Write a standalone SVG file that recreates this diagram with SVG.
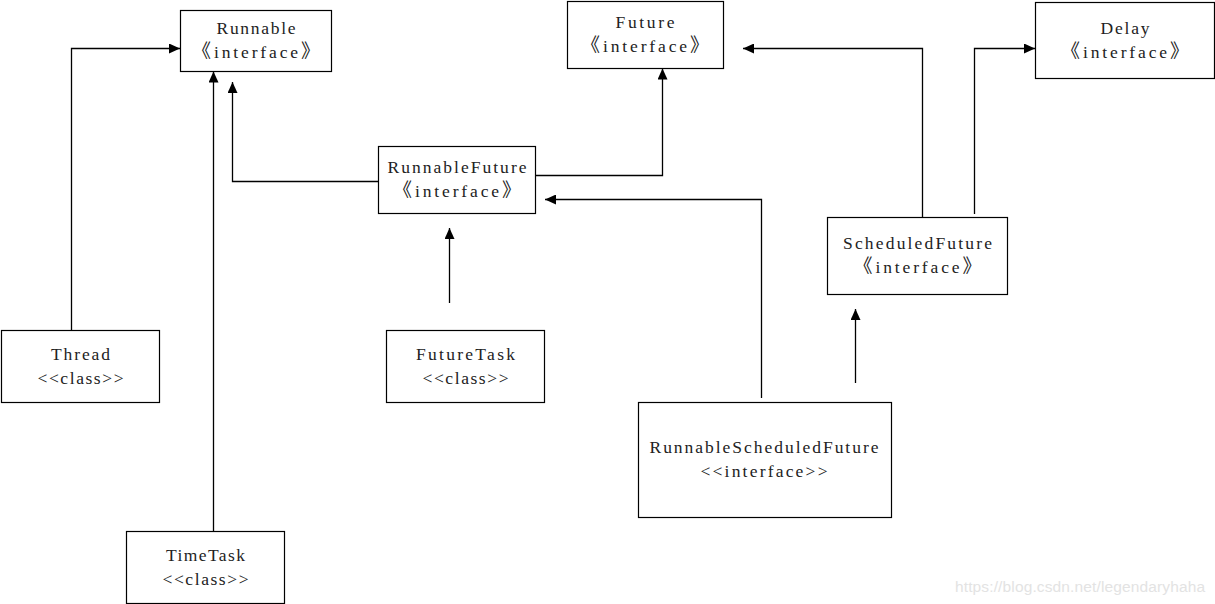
<svg xmlns="http://www.w3.org/2000/svg" width="1215" height="604" viewBox="0 0 1215 604">
<style>
.box{fill:#fff;stroke:#000;stroke-width:1.2}
.t{font-family:"Liberation Serif","Noto Sans CJK SC",serif;font-size:17.5px;fill:#222;text-anchor:middle}
.b{font-size:19px}
.c{fill:none;stroke:#000;stroke-width:1.3;marker-end:url(#ah)}
.wm{font-family:"Liberation Sans",Arial,sans-serif;font-size:15.5px;fill:#e3e3e3}
</style>
<defs>
<marker id="ah" markerUnits="userSpaceOnUse" viewBox="0 0 11 10" refX="11" refY="5" markerWidth="11" markerHeight="10" orient="auto">
<path d="M0,0 L11,5 L0,10 z" fill="#000"/>
</marker>
</defs>
<rect width="1215" height="604" fill="#fff"/>
<g id="connectors">
<path class="c" d="M71.5,330 V48.5 H180"/>
<path class="c" d="M213.5,531 V71.5"/>
<path class="c" d="M378,181.5 H232.5 V82"/>
<path class="c" d="M535,175.5 H662.5 V68.5"/>
<path class="c" d="M761.5,398 V199.5 H545"/>
<path class="c" d="M449.5,303 V228"/>
<path class="c" d="M922.5,217 V48.5 H743"/>
<path class="c" d="M974.5,214 V48.5 H1035"/>
<path class="c" d="M855.5,383 V309"/>
</g>
<g id="runnable">
<rect class="box" x="180.5" y="10.5" width="151" height="61"/>
<text class="t" x="256" y="34" textLength="79" lengthAdjust="spacing">Runnable</text>
<text class="t" x="256" y="58" textLength="128" lengthAdjust="spacing"><tspan class="b">《</tspan>interface<tspan class="b">》</tspan></text>
</g>
<g id="future">
<rect class="box" x="567.5" y="1.5" width="156" height="67"/>
<text class="t" x="645" y="28" textLength="59" lengthAdjust="spacing">Future</text>
<text class="t" x="645" y="52" textLength="128" lengthAdjust="spacing"><tspan class="b">《</tspan>interface<tspan class="b">》</tspan></text>
</g>
<g id="delay">
<rect class="box" x="1035.5" y="2.5" width="179" height="76"/>
<text class="t" x="1125" y="33.5" textLength="49" lengthAdjust="spacing">Delay</text>
<text class="t" x="1125" y="57.5" textLength="128" lengthAdjust="spacing"><tspan class="b">《</tspan>interface<tspan class="b">》</tspan></text>
</g>
<g id="runnableFuture">
<rect class="box" x="378.5" y="146.5" width="157" height="67"/>
<text class="t" x="457" y="173" textLength="139" lengthAdjust="spacing">RunnableFuture</text>
<text class="t" x="457" y="197" textLength="128" lengthAdjust="spacing"><tspan class="b">《</tspan>interface<tspan class="b">》</tspan></text>
</g>
<g id="scheduledFuture">
<rect class="box" x="827.5" y="217.5" width="180" height="77"/>
<text class="t" x="917.5" y="249" textLength="149" lengthAdjust="spacing">ScheduledFuture</text>
<text class="t" x="917.5" y="273" textLength="128" lengthAdjust="spacing"><tspan class="b">《</tspan>interface<tspan class="b">》</tspan></text>
</g>
<g id="thread">
<rect class="box" x="1.5" y="330.5" width="158" height="72"/>
<text class="t" x="80.5" y="359.5" textLength="59" lengthAdjust="spacing">Thread</text>
<text class="t" x="80.5" y="383.5" textLength="86" lengthAdjust="spacing">&lt;&lt;class&gt;&gt;</text>
</g>
<g id="futureTask">
<rect class="box" x="386.5" y="330.5" width="158" height="72"/>
<text class="t" x="465.5" y="359.5" textLength="99" lengthAdjust="spacing">FutureTask</text>
<text class="t" x="465.5" y="383.5" textLength="86" lengthAdjust="spacing">&lt;&lt;class&gt;&gt;</text>
</g>
<g id="runnableScheduledFuture">
<rect class="box" x="638.5" y="402.5" width="253" height="115"/>
<text class="t" x="764" y="453" textLength="229" lengthAdjust="spacing">RunnableScheduledFuture</text>
<text class="t" x="764" y="477" textLength="127" lengthAdjust="spacing">&lt;&lt;interface&gt;&gt;</text>
</g>
<g id="timeTask">
<rect class="box" x="126.5" y="531.5" width="158" height="72"/>
<text class="t" x="205.5" y="560.5" textLength="79" lengthAdjust="spacing">TimeTask</text>
<text class="t" x="205.5" y="584.5" textLength="86" lengthAdjust="spacing">&lt;&lt;class&gt;&gt;</text>
</g>
<text class="wm" x="955" y="592" textLength="250">https://blog.csdn.net/legendaryhaha</text>
</svg>
